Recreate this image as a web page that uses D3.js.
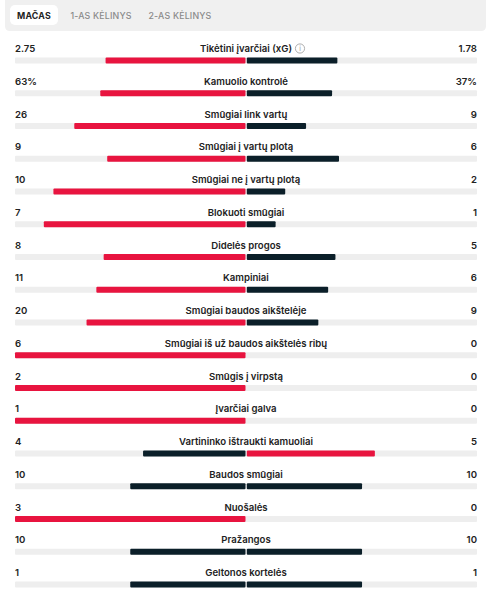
<!DOCTYPE html>
<html><head><meta charset="utf-8">
<script src="https://cdn.jsdelivr.net/npm/d3@7/dist/d3.min.js"></script>
<style>
html,body{margin:0;padding:0;background:#fff;}
svg{display:block;font-family:Inter,"Noto Sans",sans-serif;}
</style></head><body>
<script>
const tabs = ["MAČAS", "1-AS KĖLINYS", "2-AS KĖLINYS"];
const categories = ["Tikėtini įvarčiai (xG)", "Kamuolio kontrolė", "Smūgiai link vartų", "Smūgiai į vartų plotą", "Smūgiai ne į vartų plotą", "Blokuoti smūgiai", "Didelės progos", "Kampiniai", "Smūgiai baudos aikštelėje", "Smūgiai iš už baudos aikštelės ribų", "Smūgis į virpstą", "Įvarčiai galva", "Vartininko ištraukti kamuoliai", "Baudos smūgiai", "Nuošalės", "Pražangos", "Geltonos kortelės"];
const homeValues = [2.75, 63, 26, 9, 10, 7, 8, 11, 20, 6, 2, 1, 4, 10, 3, 10, 1];
const awayValues = [1.78, 37, 9, 6, 2, 1, 5, 6, 9, 0, 0, 0, 5, 10, 0, 10, 1];
const homeLabels = ["2.75", "63%", "26", "9", "10", "7", "8", "11", "20", "6", "2", "1", "4", "10", "3", "10", "1"];
const awayLabels = ["1.78", "37%", "9", "6", "2", "1", "5", "6", "9", "0", "0", "0", "5", "10", "0", "10", "1"];

const W = 492, H = 590;
const RED = "#e8143f", DARK = "#0b1f29", TRACK = "#eeeeee", TXT = "#222";
const svg = d3.select("body").append("svg").attr("width", W).attr("height", H);

// tabs
svg.append("path").attr("fill", "#f0f0f0")
  .attr("d", "M5,0 H486 V26 Q486,31 481,31 H10 Q5,31 5,26 Z");
svg.append("rect").attr("x", 10).attr("y", 5).attr("width", 48).attr("height", 20).attr("rx", 5).attr("fill", "#fff");
const tabX = [34, 101, 180];
svg.selectAll("text.tab").data(tabs).join("text")
  .attr("x", (d, i) => tabX[i]).attr("y", 18.5)
  .attr("text-anchor", "middle").attr("font-size", 8.8).attr("letter-spacing", 0.2)
  .attr("font-weight", (d, i) => i === 0 ? 700 : 500)
  .attr("fill", (d, i) => i === 0 ? "#222" : "#8a8a8a")
  .text(d => d);

// rows
const y = d3.scalePoint().domain(d3.range(categories.length)).range([48.5, 572.5]);
const left = 15, right = 477, center = 246;
const half = d3.scaleLinear().domain([0, 1]).range([0, center - left - 0.5]);

const rows = svg.selectAll("g.row").data(categories).join("g").attr("class", "row")
  .attr("transform", (d, i) => `translate(0,${y(i)})`);

rows.append("text").attr("x", center).attr("y", 3.5).attr("text-anchor", "middle")
  .attr("font-size", 9.6).attr("font-weight", 600).attr("fill", TXT).text(d => d);
rows.append("text").attr("x", left).attr("y", 3.5).attr("font-size", 9.6).attr("font-weight", 600)
  .attr("fill", TXT).text((d, i) => homeLabels[i]);
rows.append("text").attr("x", right).attr("y", 3.5).attr("text-anchor", "end").attr("font-size", 9.6)
  .attr("font-weight", 600).attr("fill", TXT).text((d, i) => awayLabels[i]);

rows.append("rect").attr("x", left).attr("y", 9).attr("width", right - left).attr("height", 6)
  .attr("fill", TRACK).attr("rx", 1);

function share(i, side) {
  const a = homeValues[i], b = awayValues[i], t = a + b;
  if (t === 0) return 0;
  return (side === 0 ? a : b) / t;
}
function color(i, side) {
  const a = homeValues[i], b = awayValues[i];
  if (a === b) return DARK;
  const mine = side === 0 ? a : b, other = side === 0 ? b : a;
  return mine > other ? RED : DARK;
}
rows.append("rect")
  .attr("x", (d, i) => center - 0.5 - half(share(i, 0)))
  .attr("y", 9).attr("height", 6).attr("rx", 1)
  .attr("width", (d, i) => half(share(i, 0)))
  .attr("fill", (d, i) => color(i, 0));
rows.append("rect")
  .attr("x", center + 0.8)
  .attr("y", 9).attr("height", 6).attr("rx", 1)
  .attr("width", (d, i) => half(share(i, 1)))
  .attr("fill", (d, i) => color(i, 1));

// info icon after xG label
const first = rows.filter((d, i) => i === 0);
const tw = first.select("text").node().getComputedTextLength();
const ix = center + tw / 2 + 8;
first.append("circle").attr("cx", ix).attr("cy", 0).attr("r", 4.6).attr("fill", "none")
  .attr("stroke", "#9a9a9a").attr("stroke-width", 0.8);
first.append("text").attr("x", ix).attr("y", 2.6).attr("text-anchor", "middle").attr("font-size", 7)
  .attr("fill", "#9a9a9a").text("i");
</script>
</body></html>
